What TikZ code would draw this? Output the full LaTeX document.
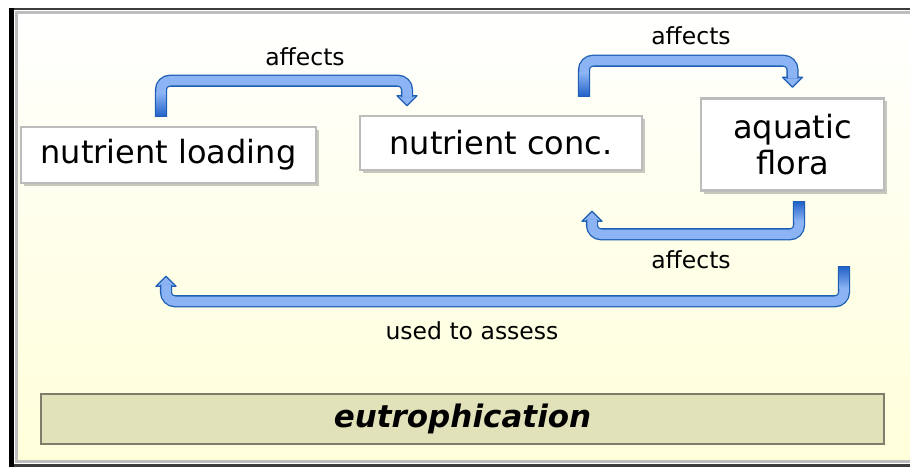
\documentclass[tikz,border=0pt]{standalone}
\usepackage{fontspec}
\setmainfont{DejaVu Sans}
\usetikzlibrary{calc,shadows}

\definecolor{bgyellow}{RGB}{255,255,218}
\definecolor{framegrey}{RGB}{190,190,190}
\definecolor{framedark}{RGB}{60,60,60}
\definecolor{boxgrey}{RGB}{188,188,188}
\definecolor{barfill}{RGB}{226,226,186}
\definecolor{baredge}{RGB}{125,125,105}
\definecolor{tubeedge}{RGB}{30,95,180}
\definecolor{tubelight}{RGB}{140,180,244}
\definecolor{tubedark}{RGB}{32,96,200}

\tikzset{
  box/.style={draw=boxgrey, line width=2.5pt, fill=white, align=center,
    inner sep=0pt, font=\fontsize{32}{36}\selectfont,
    drop shadow={shadow xshift=3pt, shadow yshift=-3pt, fill=black, opacity=0.22}},
  eutrobox/.style={draw=baredge, line width=2pt, fill=barfill, inner sep=0pt,
    font=\fontsize{31}{36}\selectfont\bfseries\itshape},
  tube/.style={draw=tubeedge, line width=1.3pt, double=tubelight,
    double distance=9.5pt, rounded corners=9pt},
  tubehead/.style={fill=tubelight, draw=tubeedge, line width=1.3pt, line join=round},
  tubecap/.style={draw=tubeedge, line width=1.3pt},
  arrowlabel/.style={font=\fontsize{23.5}{28}\selectfont}
}

\begin{document}
\begin{tikzpicture}[x=1pt,y=-1pt]
  \useasboundingbox (0,0) rectangle (910,468);

  % Background frame
  \shade[top color=white, bottom color=bgyellow, middle color=bgyellow!55!white]
    (15,12) rectangle (915,462);
  \draw[framegrey, line width=3pt] (16.5,12.5) rectangle (915,461.5);
  \draw[framedark, line width=2pt] (9,9.5) -- (915,9.5);
  \draw[framedark, line width=3.5pt] (9,465.5) -- (915,465.5);
  \draw[black, line width=5pt] (11.5,8.5) -- (11.5,467);

  % Boxes
  \node[box, minimum width=295pt, minimum height=56pt] (load) at (168.5,155) {nutrient loading};
  \node[box, minimum width=282pt, minimum height=54pt] (conc) at (501,143) {nutrient conc.};
  \node[box, minimum width=183pt, minimum height=92pt] (flora) at (792.5,144.5) {aquatic\\flora};
  \node[eutrobox, minimum width=843pt, minimum height=50pt] (eutro) at (462.5,419) {eutrophication};

  % Arrow: loading -> conc
  \coordinate (a1s) at ([xshift=-7.5pt,yshift=9pt]load.north);
  \coordinate (a1e) at ([xshift=-94pt,yshift=9pt]conc.north);
  \filldraw[tubehead] (a1e) -- ++(-10pt,10pt) -- ++(20pt,0pt) -- cycle;
  \draw[tube] (a1s) |- ([yshift=25pt]a1e) -- ([yshift=8.5pt]a1e);
  \shade[top color=tubelight, bottom color=tubedark]
    ([xshift=-4.7pt]a1s) rectangle ([xshift=4.7pt,yshift=24pt]a1s);
  \draw[tubecap] ([xshift=-6pt]a1s) -- ([xshift=6pt]a1s);
  \node[arrowlabel] (aff1) at (305,57) {affects};

  % Arrow: conc -> flora
  \coordinate (a2s) at ([xshift=83pt,yshift=18pt]conc.north);
  \coordinate (a2e) at ([yshift=10pt]flora.north);
  \filldraw[tubehead] (a2e) -- ++(-10pt,10pt) -- ++(20pt,0pt) -- cycle;
  \draw[tube] (a2s) |- ([yshift=26.5pt]a2e) -- ([yshift=8.5pt]a2e);
  \shade[top color=tubelight, bottom color=tubedark]
    ([xshift=-4.7pt]a2s) rectangle ([xshift=4.7pt,yshift=24pt]a2s);
  \draw[tubecap] ([xshift=-6pt]a2s) -- ([xshift=6pt]a2s);
  \node[arrowlabel] (aff2) at (691,36) {affects};

  % Arrow: flora -> conc
  \coordinate (a3s) at ([xshift=6.5pt,yshift=-9.5pt]flora.south);
  \coordinate (a3e) at ([xshift=91pt,yshift=-40pt]conc.south);
  \filldraw[tubehead] (a3e) -- ++(-10pt,-10pt) -- ++(20pt,0pt) -- cycle;
  \draw[tube] (a3s) |- ([yshift=-23pt]a3e) -- ([yshift=-8.5pt]a3e);
  \shade[top color=tubedark, bottom color=tubelight]
    ([xshift=-4.7pt]a3s) rectangle ([xshift=4.7pt,yshift=-20pt]a3s);
  \draw[tubecap] ([xshift=-6pt]a3s) -- ([xshift=6pt]a3s);
  \node[arrowlabel] (aff3) at (691,260) {affects};

  % Arrow: flora -> loading
  \coordinate (a4s) at ([xshift=51.5pt,yshift=-74.5pt]flora.south);
  \coordinate (a4e) at ([xshift=-2.5pt,yshift=-92pt]load.south);
  \filldraw[tubehead] (a4e) -- ++(-10pt,-10pt) -- ++(20pt,0pt) -- cycle;
  \draw[tube] (a4s) |- ([yshift=-25pt]a4e) -- ([yshift=-8.5pt]a4e);
  \shade[top color=tubedark, bottom color=tubelight]
    ([xshift=-4.7pt]a4s) rectangle ([xshift=4.7pt,yshift=-22pt]a4s);
  \draw[tubecap] ([xshift=-6pt]a4s) -- ([xshift=6pt]a4s);
  \node[arrowlabel] (assess) at (472,331) {used to assess};
\end{tikzpicture}
\end{document}
